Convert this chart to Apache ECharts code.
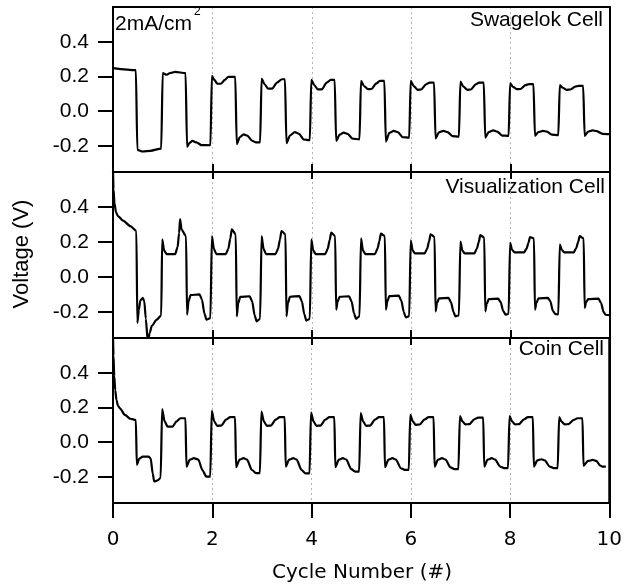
<!DOCTYPE html>
<html>
<head>
<meta charset="utf-8">
<script src="https://cdn.jsdelivr.net/npm/echarts@6/dist/echarts.min.js"></script>
<style>html,body{margin:0;padding:0;background:#fff;}#c{width:625px;height:585px;}</style>
</head>
<body>
<div id="c"></div>
<script>
// ---- data ----
const panelNames = ['Swagelok Cell', 'Visualization Cell', 'Coin Cell'];
const currentLabel = '2mA/cm';
const currentSup = '2';
const xTitle = 'Cycle Number (#)';
const yTitle = 'Voltage (V)';
const yTickValues = [-0.2, 0.0, 0.2, 0.4];
const xMin = 0, xMax = 10, xStep = 2;
const yMin = -0.35, yMax = 0.6;

const swagelok = [
[0,0.248],[0.46,0.236],[0.49,-0.223],[0.6,-0.232],[0.75,-0.228],[0.97,-0.215],
[1.0,0.219],[1.08,0.21],[1.15,0.22],[1.25,0.226],[1.46,0.22],
[1.49,-0.206],[1.54,-0.182],[1.6,-0.171],[1.68,-0.18],[1.78,-0.195],[1.96,-0.196],
[1.99,0.203],[2.04,0.18],[2.1,0.158],[2.17,0.158],[2.25,0.18],[2.32,0.198],[2.46,0.198],
[2.49,-0.19],[2.55,-0.15],[2.63,-0.133],[2.7,-0.14],[2.8,-0.17],[2.88,-0.18],[2.96,-0.18],
[2.99,0.188],[3.05,0.155],[3.12,0.13],[3.2,0.13],[3.3,0.165],[3.4,0.184],[3.46,0.184],
[3.49,-0.184],[3.56,-0.14],[3.66,-0.12],[3.74,-0.13],[3.84,-0.163],[3.96,-0.167],
[3.99,0.18],[4.05,0.15],[4.12,0.126],[4.2,0.126],[4.3,0.165],[4.38,0.18],[4.46,0.18],
[4.49,-0.171],[4.56,-0.135],[4.64,-0.123],[4.72,-0.13],[4.82,-0.158],[4.96,-0.162],
[4.99,0.175],[5.05,0.145],[5.13,0.127],[5.2,0.128],[5.3,0.16],[5.37,0.175],[5.46,0.175],
[5.49,-0.175],[5.56,-0.125],[5.65,-0.113],[5.73,-0.12],[5.83,-0.15],[5.96,-0.152],
[5.99,0.175],[6.05,0.145],[6.13,0.123],[6.2,0.125],[6.3,0.155],[6.37,0.165],[6.46,0.165],
[6.49,-0.157],[6.56,-0.122],[6.65,-0.113],[6.73,-0.12],[6.83,-0.143],[6.96,-0.146],
[6.99,0.17],[7.05,0.142],[7.13,0.123],[7.2,0.125],[7.3,0.155],[7.37,0.165],[7.46,0.165],
[7.49,-0.152],[7.56,-0.12],[7.65,-0.11],[7.73,-0.117],[7.83,-0.14],[7.96,-0.142],
[7.99,0.161],[8.05,0.14],[8.13,0.127],[8.2,0.128],[8.3,0.15],[8.37,0.156],[8.46,0.156],
[8.49,-0.142],[8.56,-0.12],[8.65,-0.113],[8.73,-0.118],[8.83,-0.135],[8.96,-0.138],
[8.99,0.15],[9.05,0.135],[9.13,0.123],[9.2,0.125],[9.3,0.142],[9.37,0.146],[9.46,0.146],
[9.49,-0.142],[9.56,-0.118],[9.65,-0.11],[9.73,-0.115],[9.85,-0.13],[10.0,-0.132]
];

const visualization = [
[0,0.62],[0.01,0.5],[0.03,0.42],[0.06,0.37],[0.1,0.348],[0.2,0.322],[0.35,0.29],[0.47,0.262],
[0.49,-0.264],[0.52,-0.19],[0.55,-0.135],[0.6,-0.12],[0.63,-0.14],[0.66,-0.24],[0.7,-0.37],[0.74,-0.32],[0.78,-0.28],[0.88,-0.245],[0.97,-0.22],
[0.99,0.214],[1.03,0.15],[1.08,0.13],[1.25,0.13],[1.3,0.17],[1.33,0.25],[1.35,0.33],[1.38,0.27],[1.47,0.233],
[1.49,-0.217],[1.52,-0.14],[1.56,-0.105],[1.74,-0.1],[1.79,-0.13],[1.84,-0.21],[1.88,-0.245],[1.96,-0.236],
[1.99,0.233],[2.03,0.16],[2.08,0.13],[2.27,0.13],[2.32,0.16],[2.36,0.22],[2.39,0.272],[2.47,0.243],
[2.49,-0.226],[2.52,-0.15],[2.56,-0.115],[2.75,-0.111],[2.8,-0.14],[2.85,-0.22],[2.89,-0.255],[2.96,-0.24],
[2.99,0.233],[3.03,0.16],[3.08,0.13],[3.27,0.13],[3.32,0.16],[3.36,0.215],[3.39,0.262],[3.47,0.243],
[3.49,-0.226],[3.52,-0.15],[3.56,-0.114],[3.75,-0.11],[3.8,-0.14],[3.85,-0.215],[3.89,-0.25],[3.96,-0.24],
[3.99,0.214],[4.03,0.15],[4.08,0.13],[4.27,0.13],[4.32,0.16],[4.36,0.21],[4.39,0.253],[4.47,0.233],
[4.49,-0.188],[4.52,-0.14],[4.56,-0.114],[4.75,-0.111],[4.8,-0.14],[4.85,-0.21],[4.89,-0.24],[4.96,-0.226],
[4.99,0.22],[5.03,0.15],[5.08,0.13],[5.27,0.13],[5.32,0.16],[5.36,0.205],[5.39,0.247],[5.47,0.233],
[5.49,-0.188],[5.52,-0.14],[5.56,-0.11],[5.75,-0.108],[5.8,-0.135],[5.85,-0.2],[5.89,-0.232],[5.96,-0.225],
[5.99,0.209],[6.03,0.15],[6.08,0.134],[6.27,0.134],[6.32,0.16],[6.36,0.205],[6.39,0.243],[6.47,0.228],
[6.49,-0.198],[6.52,-0.15],[6.56,-0.123],[6.75,-0.12],[6.8,-0.145],[6.85,-0.2],[6.89,-0.226],[6.96,-0.22],
[6.99,0.201],[7.03,0.15],[7.08,0.134],[7.27,0.134],[7.32,0.16],[7.36,0.2],[7.39,0.239],[7.47,0.224],
[7.49,-0.198],[7.52,-0.155],[7.56,-0.128],[7.75,-0.125],[7.8,-0.145],[7.85,-0.195],[7.9,-0.217],[7.96,-0.212],
[7.99,0.195],[8.03,0.155],[8.08,0.14],[8.27,0.14],[8.32,0.16],[8.36,0.195],[8.39,0.228],[8.47,0.22],
[8.49,-0.188],[8.52,-0.15],[8.56,-0.123],[8.75,-0.12],[8.8,-0.14],[8.85,-0.195],[8.9,-0.213],[8.96,-0.215],
[8.99,0.186],[9.03,0.155],[9.08,0.14],[9.27,0.14],[9.32,0.165],[9.36,0.2],[9.39,0.233],[9.47,0.22],
[9.49,-0.178],[9.52,-0.145],[9.56,-0.127],[9.77,-0.125],[9.82,-0.15],[9.87,-0.2],[9.91,-0.217],[10.0,-0.22]
];

const coin = [
[0,0.62],[0.01,0.5],[0.025,0.38],[0.045,0.3],[0.07,0.243],[0.1,0.21],[0.14,0.195],[0.24,0.157],[0.35,0.135],[0.46,0.128],
[0.48,-0.13],[0.53,-0.095],[0.6,-0.083],[0.72,-0.083],[0.76,-0.095],[0.8,-0.18],[0.83,-0.226],[0.9,-0.22],[0.96,-0.205],
[0.99,0.19],[1.04,0.12],[1.1,0.09],[1.2,0.09],[1.28,0.12],[1.36,0.138],[1.46,0.138],
[1.48,-0.14],[1.55,-0.1],[1.63,-0.092],[1.72,-0.1],[1.8,-0.16],[1.88,-0.198],[1.96,-0.198],
[1.99,0.18],[2.04,0.12],[2.1,0.094],[2.18,0.096],[2.28,0.13],[2.36,0.144],[2.46,0.144],
[2.48,-0.144],[2.55,-0.1],[2.63,-0.092],[2.7,-0.1],[2.8,-0.16],[2.88,-0.178],[2.96,-0.178],
[2.99,0.176],[3.04,0.12],[3.1,0.094],[3.18,0.096],[3.28,0.13],[3.36,0.144],[3.46,0.144],
[3.48,-0.14],[3.55,-0.1],[3.63,-0.092],[3.7,-0.1],[3.8,-0.16],[3.88,-0.18],[3.96,-0.18],
[3.99,0.17],[4.04,0.12],[4.1,0.094],[4.18,0.096],[4.28,0.13],[4.36,0.144],[4.46,0.144],
[4.48,-0.144],[4.55,-0.1],[4.63,-0.092],[4.7,-0.1],[4.8,-0.155],[4.88,-0.169],[4.96,-0.169],
[4.99,0.167],[5.04,0.12],[5.1,0.094],[5.18,0.096],[5.28,0.13],[5.36,0.144],[5.46,0.144],
[5.48,-0.144],[5.55,-0.1],[5.63,-0.092],[5.7,-0.1],[5.8,-0.15],[5.88,-0.159],[5.96,-0.159],
[5.99,0.157],[6.04,0.12],[6.1,0.1],[6.18,0.102],[6.28,0.132],[6.36,0.144],[6.46,0.144],
[6.48,-0.14],[6.55,-0.1],[6.63,-0.092],[6.7,-0.1],[6.8,-0.145],[6.88,-0.155],[6.96,-0.155],
[6.99,0.151],[7.04,0.12],[7.1,0.103],[7.18,0.104],[7.28,0.132],[7.36,0.142],[7.46,0.142],
[7.48,-0.14],[7.55,-0.1],[7.63,-0.092],[7.7,-0.1],[7.8,-0.14],[7.88,-0.149],[7.96,-0.149],
[7.99,0.151],[8.04,0.12],[8.1,0.103],[8.18,0.104],[8.28,0.132],[8.36,0.144],[8.46,0.144],
[8.48,-0.14],[8.55,-0.105],[8.63,-0.098],[8.7,-0.105],[8.8,-0.14],[8.88,-0.149],[8.96,-0.149],
[8.99,0.144],[9.04,0.118],[9.1,0.103],[9.18,0.104],[9.28,0.128],[9.36,0.138],[9.46,0.138],
[9.48,-0.136],[9.57,-0.108],[9.67,-0.102],[9.74,-0.108],[9.82,-0.135],[9.86,-0.14],[9.93,-0.14]
];

// ---- chart ----
const chart = echarts.init(document.getElementById('c'), null, {renderer: 'canvas'});
const L = 113, R = 15;
const panelTops = [7, 172, 338];
const panelHeights = [165, 166, 165];
const black = '#000';
const yFont = 'Liberation Sans, Arial, Helvetica, sans-serif';
const xFont = 'DejaVu Sans, Verdana, sans-serif';

const grids = panelTops.map((t, i) => ({
  left: L, right: R, top: t, height: panelHeights[i],
  show: true, borderColor: black, borderWidth: 2, backgroundColor: 'transparent'
}));

function bottomX(i) {
  const last = i === 2;
  return {
    type: 'value', gridIndex: i, position: 'bottom', min: xMin, max: xMax, interval: xStep,
    axisLine: {show: true, onZero: false, lineStyle: {color: black, width: 2}},
    axisTick: {show: true, inside: !last, length: last ? 15 : 8, lineStyle: {color: black, width: 2}},
    axisLabel: {show: last, margin: 27, fontSize: 20, color: black, fontFamily: xFont},
    splitLine: {show: true, showMinLine: false, showMaxLine: false,
      lineStyle: {color: '#b5b5b5', width: 1, type: [2, 3]}}
  };
}
function topX(i) {
  return {
    type: 'value', gridIndex: i, position: 'top', min: xMin, max: xMax, interval: xStep,
    axisLine: {show: true, onZero: false, lineStyle: {color: black, width: 2}},
    axisTick: {show: true, inside: true, length: 7, lineStyle: {color: black, width: 2}},
    axisLabel: {show: false}, splitLine: {show: false}
  };
}
const xAxes = [bottomX(0), bottomX(1), bottomX(2), topX(0), topX(1), topX(2)];
xAxes[3].axisTick.show = false;

const yAxes = [];
[0, 1, 2].forEach(i => {
  yAxes.push({
    type: 'value', gridIndex: i, min: yMin, max: yMax, position: 'left',
    axisLine: {show: true, onZero: false, lineStyle: {color: black, width: 2}},
    axisTick: {show: true, length: 15, customValues: yTickValues, lineStyle: {color: black, width: 2}},
    axisLabel: {show: true, customValues: yTickValues, margin: 24, fontSize: 21, color: black, fontFamily: yFont,
      formatter: v => Number(v).toFixed(1)},
    splitLine: {show: false}
  });
});
[0, 1, 2].forEach(i => {
  yAxes.push({
    type: 'value', gridIndex: i, min: yMin, max: yMax, position: 'right',
    axisLine: {show: true, onZero: false, lineStyle: {color: black, width: 2}},
    axisTick: {show: false}, axisLabel: {show: false}, splitLine: {show: false}
  });
});

const datasets = [swagelok, visualization, coin];
const series = datasets.map((d, i) => ({
  type: 'line', xAxisIndex: i, yAxisIndex: i, data: d,
  showSymbol: false, symbol: 'none', smooth: 0.25, smoothMonotone: 'x', clip: true,
  lineStyle: {color: black, width: 2.2}, animation: false
}));

const textStyleBase = {fill: black, fontFamily: yFont, fontSize: 21};
const graphic = [
  {type: 'text', left: 115, top: 14, style: Object.assign({text: currentLabel}, textStyleBase)},
  {type: 'text', left: 194, top: 6, style: Object.assign({}, textStyleBase, {text: currentSup, fontSize: 12})},
  {type: 'text', right: 22, top: 10, style: Object.assign({text: panelNames[0]}, textStyleBase)},
  {type: 'text', right: 20, top: 177, style: Object.assign({text: panelNames[1]}, textStyleBase)},
  {type: 'text', right: 21, top: 339, style: Object.assign({text: panelNames[2]}, textStyleBase)},
  {type: 'text', x: 22, y: 254, rotation: Math.PI / 2,
    style: Object.assign({}, textStyleBase, {text: yTitle, fontSize: 22, align: 'center', verticalAlign: 'middle'})},
  {type: 'text', x: 362, y: 563,
    style: {text: xTitle, fill: black, fontFamily: xFont, fontSize: 20, align: 'center', verticalAlign: 'top'}}
];

chart.setOption({
  animation: false,
  backgroundColor: '#fff',
  grid: grids,
  xAxis: xAxes,
  yAxis: yAxes,
  series: series,
  graphic: graphic
});
</script>
</body>
</html>
